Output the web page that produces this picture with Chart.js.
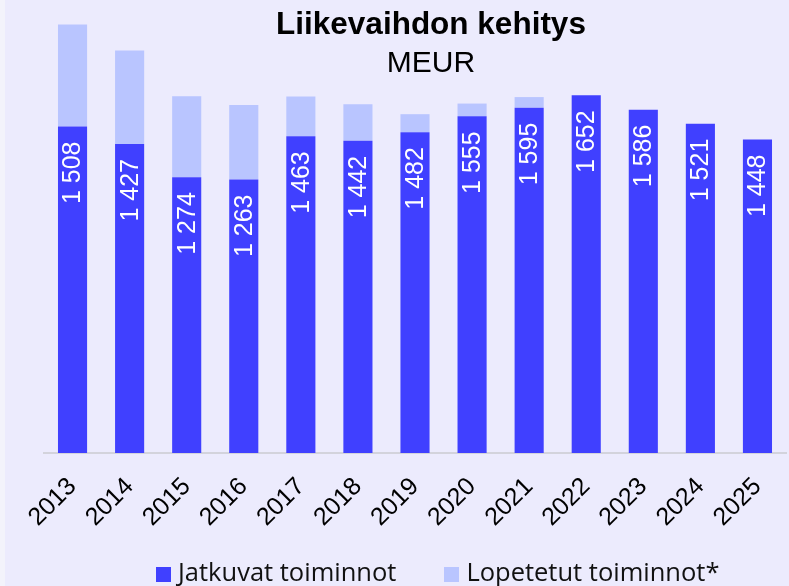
<!DOCTYPE html>
<html>
<head>
  <title>Liikevaihdon kehitys</title>
  <script src="https://cdn.jsdelivr.net/npm/chart.js"></script>
  <style>
    body {
      margin: 0;
      background: #f3f3fb;
      font-family: 'Liberation Sans', Arial, sans-serif;
    }
    .wrap {
      position: absolute;
      left: 5px;
      top: 0;
      width: 784px;
      height: 586px;
      background: #ecebfd;
    }
    .title {
      position: absolute;
      left: 0;
      width: 852px; /* centre sits to the right of the canvas middle */
      text-align: center;
      color: #000;
      font-size: 30px;
      line-height: 1;
    }
    #t1 { top: 8px; font-weight: bold; font-size: 31.5px; }
    #t2 { top: 47px; }
    .legend {
      position: absolute;
      top: 556px;
      left: 151px;
      display: flex;
      gap: 48px;
      font-family: 'Open Sans', sans-serif;
      font-size: 25.5px;
      line-height: 31px;
      color: #111;
    }
    .legend span.box {
      display: inline-block;
      width: 15px;
      height: 15px;
      margin-right: 7px;
      vertical-align: -1px;
    }
  </style>
</head>
<body>
  <div class="wrap">
    <canvas id="chart" width="784" height="586"></canvas>
    <div class="title" id="t1">Liikevaihdon kehitys</div>
    <div class="title" id="t2">MEUR</div>
    <div class="legend">
      <div><span class="box" style="background:#4040ff"></span>Jatkuvat toiminnot</div>
      <div><span class="box" style="background:#b9c5ff"></span>Lopetetut toiminnot*</div>
    </div>
  </div>

  <script>
    const years = ['2013', '2014', '2015', '2016', '2017', '2018', '2019',
                   '2020', '2021', '2022', '2023', '2024', '2025'];
    const continuing = [1508, 1427, 1274, 1263, 1463, 1442, 1482, 1555, 1595, 1652, 1586, 1521, 1448];
    const discontinued = [471, 432, 374, 344, 184, 169, 83, 59, 49, 0, 0, 0, 0];

    const darkBlue = '#4040ff';
    const lightBlue = '#b9c5ff';

    // "1 508" style thousands separator
    function fmt(v) {
      return String(v).replace(/\B(?=(\d{3})+(?!\d))/g, ' ');
    }

    // vertical white value labels inside the dark bars
    const valueLabels = {
      id: 'valueLabels',
      afterDatasetsDraw(chart) {
        const ctx = chart.ctx;
        const meta = chart.getDatasetMeta(0);
        ctx.save();
        ctx.fillStyle = '#ffffff';
        ctx.font = '25px "Liberation Sans", Arial, sans-serif';
        ctx.textAlign = 'right';
        ctx.textBaseline = 'middle';
        meta.data.forEach((bar, i) => {
          ctx.save();
          ctx.translate(bar.x + 1, bar.y + 15);
          ctx.rotate(-Math.PI / 2);
          ctx.fillText(fmt(continuing[i]), 0, 0);
          ctx.restore();
        });
        ctx.restore();
      }
    };

    new Chart(document.getElementById('chart'), {
      type: 'bar',
      data: {
        labels: years,
        datasets: [
          {
            label: 'Jatkuvat toiminnot',
            data: continuing,
            backgroundColor: darkBlue,
            barPercentage: 0.51,
            categoryPercentage: 1
          },
          {
            label: 'Lopetetut toiminnot*',
            data: discontinued,
            backgroundColor: lightBlue,
            barPercentage: 0.51,
            categoryPercentage: 1
          }
        ]
      },
      options: {
        responsive: false,
        animation: false,
        layout: { padding: { top: 20, left: 39, right: 3, bottom: 0 } },
        plugins: {
          legend: { display: false },
          title: { display: false },
          tooltip: { enabled: false }
        },
        scales: {
          x: {
            stacked: true,
            grid: { display: false, drawTicks: false },
            border: { color: '#d3d3dc', width: 2 },
            ticks: {
              color: '#000',
              font: { size: 25, family: '"Liberation Sans", Arial, sans-serif' },
              minRotation: 45,
              maxRotation: 45,
              padding: 19
            },
            afterFit(scale) {
              scale.height = 133;
              // keep the plot width fixed; rotated labels may overhang
              scale.paddingLeft = 0;
              scale.paddingRight = 0;
            }
          },
          y: {
            stacked: true,
            display: false,
            min: 0,
            max: 2000
          }
        }
      },
      plugins: [valueLabels]
    });
  </script>
</body>
</html>
